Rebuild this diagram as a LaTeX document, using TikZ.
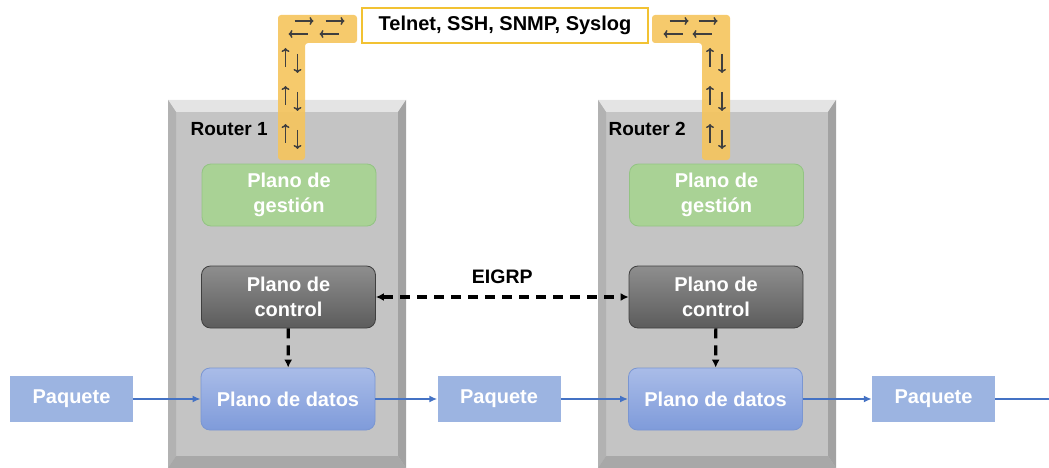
\documentclass[tikz,border=0pt]{standalone}
\usepackage{fontspec}
\setmainfont{Liberation Sans}
\usetikzlibrary{arrows.meta,positioning}

\definecolor{casefront}{HTML}{C4C4C4}
\definecolor{casetop}{HTML}{E4E4E4}
\definecolor{caseleft}{HTML}{B2B2B2}
\definecolor{caseright}{HTML}{A2A2A2}
\definecolor{casebottom}{HTML}{A8A8A8}
\definecolor{bandyellow}{HTML}{F5C45C}
\definecolor{boxyellow}{HTML}{F2C233}
\definecolor{gestgreen}{HTML}{A9D295}
\definecolor{gestedge}{HTML}{93C483}
\definecolor{ctltop}{HTML}{8E8E8E}
\definecolor{ctlbottom}{HTML}{5C5C5C}
\definecolor{datatop}{HTML}{A9BCE8}
\definecolor{databottom}{HTML}{7F9BDA}
\definecolor{dataedge}{HTML}{7A96D2}
\definecolor{pktblue}{HTML}{9CB4E1}
\definecolor{flowblue}{HTML}{4472C4}
\definecolor{glyphgray}{HTML}{3F3F3F}

\tikzset{
  plane/.style={rounded corners=9pt, minimum width=174pt, minimum height=62pt,
    align=center, text=white, line width=0.8pt,
    font=\bfseries\fontsize{20}{25}\selectfont},
  gestion/.style={plane, fill=gestgreen, draw=gestedge},
  control/.style={plane, top color=ctltop, bottom color=ctlbottom, draw=glyphgray},
  datos/.style={plane, top color=datatop, bottom color=databottom, draw=dataedge},
  packet/.style={fill=pktblue, minimum width=123pt, minimum height=46pt, text=white,
    font=\bfseries\fontsize{20}{24}\selectfont},
  routerlabel/.style={anchor=west, font=\bfseries\fontsize{19}{22}\selectfont},
  protobox/.style={draw=boxyellow, line width=2.2pt, fill=white, minimum width=286pt,
    minimum height=35pt, font=\bfseries\fontsize{20}{24}\selectfont},
  flow/.style={draw=flowblue, line width=2.4pt, -{Latex[length=8pt,width=7pt]}},
  signal/.style={line width=3.2pt, dash pattern=on 10pt off 7pt,
    {Latex[length=8pt,width=8pt]}-{Latex[length=8pt,width=8pt]}},
  down/.style={line width=3.2pt, dash pattern=on 10pt off 7pt,
    -{Latex[length=8pt,width=8pt]}},
  band/.style={fill=bandyellow, fill opacity=0.9, rounded corners=3pt},
  pics/horizpair/.style={code={
    \draw[glyphgray, line width=1.5pt, -{To[length=4pt,width=8pt]}] (-7,-6.5) -- (12,-6.5);
    \draw[glyphgray, line width=1.5pt, -{To[length=4pt,width=8pt]}] (6,6.5) -- (-13,6.5);}},
  pics/vertpair/.style={code={
    \draw[glyphgray, line width=1.5pt, -{To[length=4pt,width=8pt]}] (-6,7) -- (-6,-12);
    \draw[glyphgray, line width=1.5pt, -{To[length=4pt,width=8pt]}] (6,-6) -- (6,13);}}
}

\begin{document}
\begin{tikzpicture}[x=1pt,y=-1pt]
  \useasboundingbox (0,0) rectangle (1049,468);

  % router cases
  \foreach \rx in {168,598} {
    \fill[casefront] (\rx,100) rectangle (\rx+238,468);
    \fill[casetop] (\rx,100) -- (\rx+238,100) -- (\rx+230,112) -- (\rx+8,112) -- cycle;
    \fill[caseleft] (\rx,100) -- (\rx+8,112) -- (\rx+8,456) -- (\rx,468) -- cycle;
    \fill[caseright] (\rx+238,100) -- (\rx+230,112) -- (\rx+230,456) -- (\rx+238,468) -- cycle;
    \fill[casebottom] (\rx,468) -- (\rx+8,456) -- (\rx+230,456) -- (\rx+238,468) -- cycle;
  }

  \node[routerlabel] (r1) at (187,129) {Router 1};
  \node[routerlabel] (r2) at (605,129) {Router 2};

  % management bands
  \fill[band] (278,15) -- (357,15) -- (357,43) -- (305,43) -- (305,160) -- (278,160) -- cycle;
  \fill[band] (652,15) -- (730,15) -- (730,160) -- (702,160) -- (702,43) -- (652,43) -- cycle;
  \pic at (301.5,27.5) {horizpair};
  \pic at (332.5,27.5) {horizpair};
  \pic at (676.5,27.5) {horizpair};
  \pic at (705.5,27.5) {horizpair};
  \foreach \vy in {60,98,136} {
    \pic at (291.5,\vy) {vertpair};
    \pic at (716,\vy) {vertpair};
  }

  \node[protobox] (proto) at (505,25.5) {Telnet, SSH, SNMP, Syslog};

  % planes
  \node[gestion] (gest1) at (289,195) {Plano de\\gestión};
  \node[control] (ctl1) at (288.5,297) {Plano de\\control};
  \node[datos] (dat1) at (288,399) {Plano de datos};

  \node[gestion] (gest2) at (716.5,195) {Plano de\\gestión};
  \node[control] (ctl2) at (716,297) {Plano de\\control};
  \node[datos] (dat2) at (715.5,399) {Plano de datos};

  % packets
  \node[packet] (pkt1) at (71.5,399) {Paquete};
  \node[packet] (pkt2) at (499,399) {Paquete};
  \node[packet] (pkt3) at (933.5,399) {Paquete};
  \coordinate (exit) at (1049,399);

  \draw[flow] (pkt1) -- (dat1);
  \draw[flow] (dat1) -- (pkt2);
  \draw[flow] (pkt2) -- (dat2);
  \draw[flow] (dat2) -- (pkt3);
  \draw[flowblue, line width=2.4pt] (pkt3) -- (exit);

  \draw[signal] (ctl1) -- node[above=8pt, font=\bfseries\fontsize{19.5}{22}\selectfont] {EIGRP} (ctl2);
  \draw[down] (ctl1) -- (dat1);
  \draw[down] (ctl2) -- (dat2);
\end{tikzpicture}
\end{document}
